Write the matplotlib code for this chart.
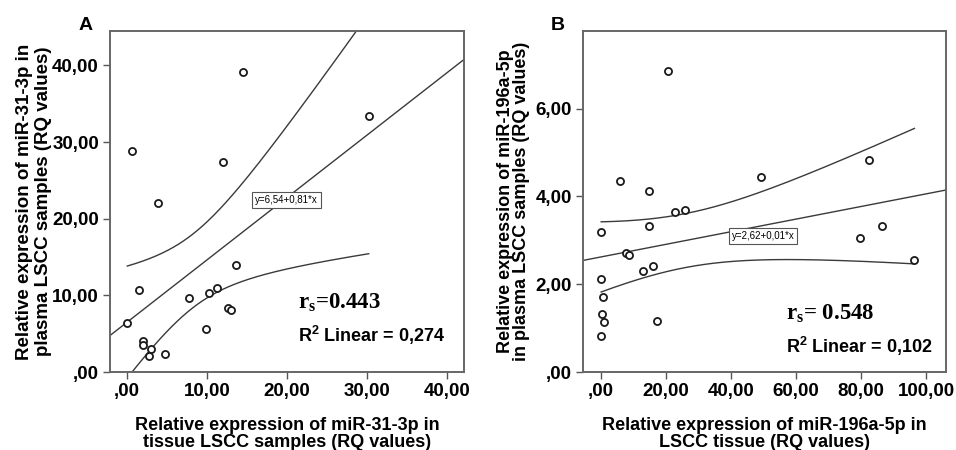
import numpy as np
import matplotlib
matplotlib.use("Agg")
import matplotlib.pyplot as plt

plt.rcParams['font.family'] = ['Liberation Sans', 'DejaVu Sans']
plt.rcParams['font.weight'] = 'bold'
plt.rcParams['axes.labelweight'] = 'bold'
plt.rcParams['mathtext.fontset'] = 'custom'
plt.rcParams['mathtext.rm'] = 'Liberation Serif:bold'
plt.rcParams['mathtext.sf'] = 'Liberation Sans:bold'

# Panel A: miR-31-3p, tissue (x) vs plasma (y), RQ values
a_tissue = [14.46, 30.2, 0.66, 12.0, 3.9, 13.67, 1.5, 7.7, 10.25, 11.3,
            12.6, 12.96, 0.05, 9.85, 1.98, 1.98, 2.96, 2.75, 4.75]
a_plasma = [39.2, 33.4, 28.8, 27.4, 22.0, 14.0, 10.65, 9.6, 10.3, 10.9,
            8.4, 8.1, 6.4, 5.65, 4.08, 3.5, 2.95, 2.1, 2.4]

# Panel B: miR-196a-5p
b_tissue = [20.7, 82.3, 49.1, 5.7, 14.8, 22.8, 25.8, 14.8, 86.4, 0.0, 79.5,
            7.6, 8.6, 96.4, 16.1, 12.8, 0.0, 0.6, 0.2, 0.9, 17.2, 0.0]
b_plasma = [6.86, 4.83, 4.44, 4.36, 4.12, 3.64, 3.70, 3.32, 3.32, 3.19, 3.05,
            2.72, 2.67, 2.55, 2.41, 2.30, 2.11, 1.72, 1.32, 1.15, 1.17, 0.83]

a_xticks = [0, 10, 20, 30, 40]
a_yticks = [0, 10, 20, 30, 40]
b_xticks = [0, 20, 40, 60, 80, 100]
b_yticks = [0, 2, 4, 6]

a_eq = "y=6,54+0,81*x"
b_eq = "y=2,62+0,01*x"
a_rs = "0.443"
b_rs = " 0.548"
a_r2 = "0,274"
b_r2 = "0,102"

# two-sided 95% t critical values for n-2 degrees of freedom
T_CRIT = {17: 2.110, 20: 2.086}


def fmt(v):
    s = f"{v:.2f}".replace(".", ",")
    return s[1:] if s.startswith("0") else s


def panel(ax, x, y, xlim, ylim, xticks, yticks):
    x = np.array(x)
    y = np.array(y)
    n = len(x)
    slope, inter = np.polyfit(x, y, 1)
    resid = y - (inter + slope * x)
    s = np.sqrt(np.sum(resid ** 2) / (n - 2))
    sxx = np.sum((x - x.mean()) ** 2)
    t = T_CRIT[n - 2]

    # fit line over the whole axis, mean 95% CI over the data range
    xl = np.linspace(xlim[0], xlim[1], 200)
    ax.plot(xl, inter + slope * xl, color='#3a3a3a', lw=1.0, zorder=2)
    xb = np.linspace(x.min(), x.max(), 200)
    hw = t * s * np.sqrt(1 / n + (xb - x.mean()) ** 2 / sxx)
    ax.plot(xb, inter + slope * xb + hw, color='#3a3a3a', lw=1.0, zorder=2)
    ax.plot(xb, inter + slope * xb - hw, color='#3a3a3a', lw=1.0, zorder=2)

    ax.scatter(x, y, s=26, facecolors='white', edgecolors='#1a1a1a',
               linewidths=1.3, zorder=3)

    ax.set_xlim(xlim)
    ax.set_ylim(ylim)
    ax.set_xticks(xticks)
    ax.set_yticks(yticks)
    ax.set_xticklabels([fmt(v) for v in xticks])
    ax.set_yticklabels([fmt(v) for v in yticks])
    ax.tick_params(labelsize=13.5, length=5, width=1.0, color='#555555',
                   pad=3)
    for sp in ax.spines.values():
        sp.set_color('#666666')
        sp.set_linewidth(1.4)


fig = plt.figure(figsize=(9.56, 4.5), dpi=100)
axA = fig.add_axes([0.1151, 0.1733, 0.3703, 0.7578])
axB = fig.add_axes([0.6098, 0.1733, 0.3797, 0.7578])

panel(axA, a_tissue, a_plasma, (-2.1, 42.1), (0, 44.5), a_xticks, a_yticks)
panel(axB, b_tissue, b_plasma, (-5.6, 106.1), (0, 7.77), b_xticks, b_yticks)

axA.set_xlabel("Relative expression of miR-31-3p in\ntissue LSCC samples (RQ values)",
               fontsize=13, labelpad=12, linespacing=1.05)
axA.set_ylabel("Relative expression of miR-31-3p in\nplasma LSCC samples (RQ values)",
               fontsize=13.5, labelpad=0, linespacing=1.2)
axB.set_xlabel("Relative expression of miR-196a-5p in\nLSCC tissue (RQ values)",
               fontsize=13, labelpad=12, linespacing=1.05)
axB.set_ylabel("Relative expression of miR-196a-5p\nin plasma LSCC samples (RQ values)",
               fontsize=13, labelpad=4, linespacing=0.95)

box = dict(boxstyle='square,pad=0.3', facecolor='white', edgecolor='#555555',
           lw=0.8)
axA.text(19.96, 22.46, a_eq, fontsize=7, fontweight='normal', ha='center',
         va='center', bbox=box, zorder=4)
axB.text(49.8, 3.09, b_eq, fontsize=7, fontweight='normal', ha='center',
         va='center', bbox=box, zorder=4)

axA.text(21.4, 8.3, r"$\mathrm{r_s}$=" + a_rs, fontsize=16.5,
         family='Liberation Serif', fontweight='bold')
axB.text(56.8, 1.2, r"$\mathrm{r_s}$=" + b_rs, fontsize=16.5,
         family='Liberation Serif', fontweight='bold')
axA.text(21.4, 3.87, r"R$^{\mathsf{2}}$ Linear = " + a_r2, fontsize=13)
axB.text(56.8, 0.43, r"R$^{\mathsf{2}}$ Linear = " + b_r2, fontsize=13)

fig.text(0.0826, 0.933, "A", fontsize=14)
fig.text(0.5764, 0.933, "B", fontsize=14)

fig.savefig("out.png", dpi=100)
